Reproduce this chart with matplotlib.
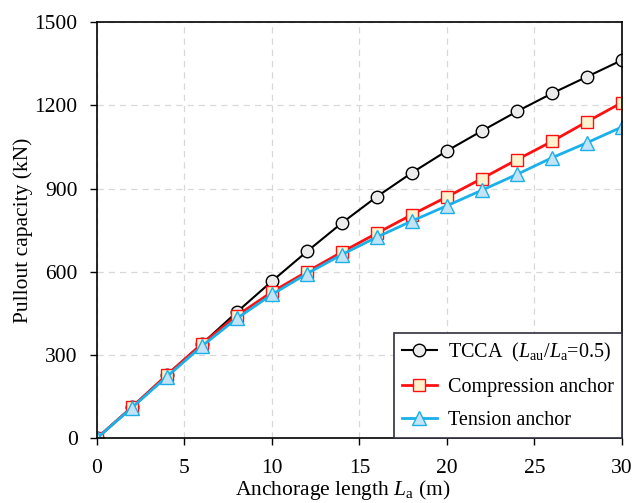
import matplotlib
matplotlib.use('Agg')
import matplotlib.pyplot as plt

# Data
length = [0, 2, 4, 6, 8, 10, 12, 14, 16, 18, 20, 22, 24, 26, 28, 30]
tcca = [0, 112, 228, 340, 455, 566, 673, 776, 871, 957, 1036, 1108, 1178, 1243, 1303, 1363]
compression = [0, 112, 228, 340, 442, 527, 600, 671, 739, 806, 870, 936, 1004, 1070, 1141, 1210]
tension = [0, 110, 222, 332, 432, 518, 593, 662, 725, 783, 838, 894, 951, 1011, 1065, 1122]

plt.rcParams['font.family'] = ['Liberation Serif', 'DejaVu Serif']
plt.rcParams['mathtext.fontset'] = 'custom'
plt.rcParams['mathtext.rm'] = 'Liberation Serif'
plt.rcParams['mathtext.it'] = 'Liberation Serif:italic'
plt.rcParams['font.size'] = 15

fig = plt.figure(figsize=(6.34, 5.03), dpi=100)
ax = fig.add_axes([0.153, 0.129, 0.828, 0.827])

ax.plot(length, tcca, color='black', lw=1.5, marker='o', ms=9,
        mfc='#ececec', mec='black', mew=1.0,
        label=r'TCCA  ($L_{\mathrm{au}}/L_{\mathrm{a}}$=0.5)')
ax.plot(length, compression, color='#ff1010', lw=2.0, marker='s', ms=9,
        mfc='#fff2cc', mec='#ff1010', mew=1.0, label='Compression anchor')
ax.plot(length, tension, color='#1ab0ea', lw=2.0, marker='^', ms=10,
        mfc='#c5e3f6', mec='#1ab0ea', mew=1.0, label='Tension anchor')

ax.set_xlim(0, 30)
ax.set_ylim(0, 1500)
ax.set_xticks([0, 5, 10, 15, 20, 25, 30])
ax.set_yticks([0, 300, 600, 900, 1200, 1500])
ax.grid(True, ls=(0, (5, 4)), color='#d8d8d8', lw=0.9)
ax.set_axisbelow(True)
for sp in ax.spines.values():
    sp.set_linewidth(1.2)
ax.tick_params(direction='out', length=5, width=1.0, labelsize=15.5)
ax.tick_params(axis='x', pad=10)
ax.tick_params(axis='y', pad=9)

ax.set_xlabel(r'Anchorage length $L_{\mathrm{a}}$ (m)', fontsize=15.5)
ax.xaxis.set_label_coords(0.469, -0.097)
ax.set_ylabel('Pullout capacity (kN)', fontsize=15.5)
ax.yaxis.set_label_coords(-0.122, 0.5)

leg = ax.legend(loc='lower right', fontsize=14.5, fancybox=False, framealpha=1,
                edgecolor='#303040', borderaxespad=0.0, handlelength=1.75,
                handletextpad=0.55, labelspacing=0.7, borderpad=0.4)
leg.get_frame().set_linewidth(1.2)

fig.savefig('out.png', dpi=100)
